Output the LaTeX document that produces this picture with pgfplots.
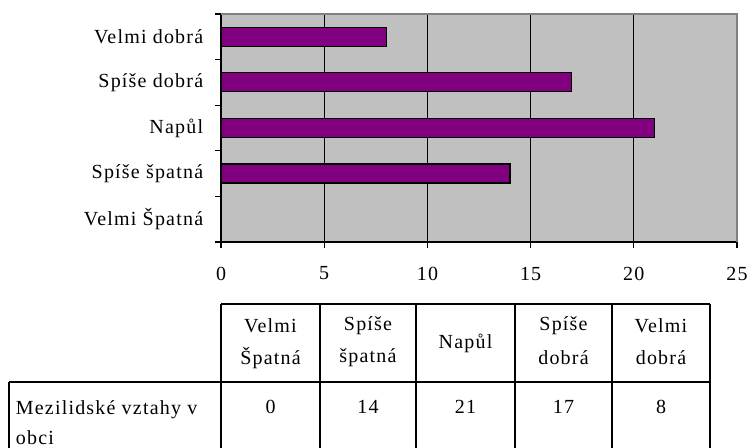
\documentclass[border=0pt]{standalone}
\usepackage{pgfplots}
\pgfplotsset{compat=1.18}
\usepackage{fontspec}
\setmainfont[LetterSpace=6]{Liberation Serif}
\definecolor{plotgray}{HTML}{C0C0C0}
\definecolor{barpurple}{HTML}{800080}
\definecolor{bordergray}{HTML}{808080}
\begin{document}
\fontsize{20bp}{23bp}\selectfont
\begin{tikzpicture}[x=1bp,y=1bp]
\useasboundingbox (0,0) rectangle (750,448);
\begin{axis}[
  at={(221bp,206bp)}, anchor=south west,
  scale only axis, width=516bp, height=228bp,
  xmin=0, xmax=25, ymin=0, ymax=5,
  axis background/.style={fill=plotgray},
  axis x line*=bottom, axis y line*=left,
  axis line style={black, line width=1.2bp, -},
  xtick={0,5,10,15,20,25},
  ytick={0,1,2,3,4,5}, yticklabels={,,,,,},
  extra y ticks={0.5,1.5,2.5,3.5,4.5},
  extra y tick labels={Velmi Špatná, Spíše špatná, Napůl, Spíše dobrá, Velmi dobrá\ },
  extra y tick style={grid=none, major tick length=0pt, yticklabel style={xshift=-11bp}},
  xmajorgrids, ymajorgrids=false,
  major grid style={black, line width=1.2bp},
  tick align=outside, major tick length=6bp,
  tick style={black, line width=1.2bp},
  /pgf/number format/assume math mode=true,
  ticklabel style={font=\fontsize{20bp}{23bp}\selectfont},
  xticklabel style={yshift=-12bp},
  clip=false,
]
\addplot[xbar, bar width=19bp, fill=barpurple, draw=black, line width=1.2bp]
  coordinates {(0,0.5) (14,1.5) (21,2.5) (17,3.5) (8,4.5)};
\draw[bordergray, line width=1.2bp] (rel axis cs:0,1) -- (rel axis cs:1,1) -- (rel axis cs:1,0);
\end{axis}
% data table
\begin{scope}[line width=1.5bp]
\draw (221,144) -- (710,144);
\draw (9,66) -- (710,66);
\foreach \xx in {221,320,416,515,612,710} \draw (\xx,144) -- (\xx,0);
\draw (9,66) -- (9,0);
\end{scope}
\node at (270.5,122) {Velmi};
\node at (270.5,90) {Špatná};
\node at (368,122) {Spíše};
\node at (368,90) {špatná};
\node at (465.5,105) {Napůl};
\node at (563.5,122) {Spíše};
\node at (563.5,90) {dobrá};
\node at (661,122) {Velmi};
\node at (661,90) {dobrá};
\node at (270.5,41) {0};
\node at (368,41) {14};
\node at (465.5,41) {21};
\node at (563.5,41) {17};
\node at (661,41) {8};
\node[anchor=west] at (9,38) {Mezilidské vztahy v};
\node[anchor=west] at (9,10) {obci};
\end{tikzpicture}
\end{document}
